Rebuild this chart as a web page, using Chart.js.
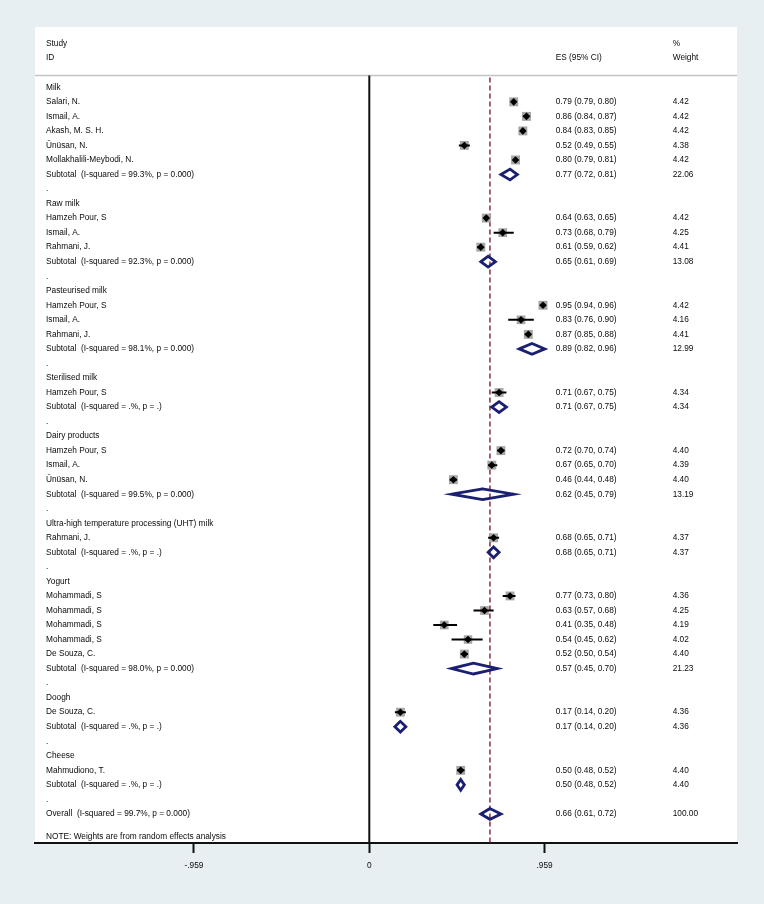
<!DOCTYPE html>
<html>
<head>
<meta charset="utf-8">
<script src="https://cdn.jsdelivr.net/npm/chart.js@4.4.1/dist/chart.umd.min.js"></script>
<style>
  html, body { margin: 0; padding: 0; background: #e8eff2; }
  canvas { display: block; }
</style>
</head>
<body>
<canvas id="forest" width="764" height="904"></canvas>
<script>
// Forest plot: prevalence by dairy product type (random effects)
// One entry per row, top to bottom. null = row without an estimate.

const rowLabels = [
  'Milk', 'Salari, N.', 'Ismail, A.', 'Akash, M. S. H.', 'Ünüsan, N.', 'Mollakhalili-Meybodi, N.',
  'Subtotal  (I-squared = 99.3%, p = 0.000)', '.',
  'Raw milk', 'Hamzeh Pour, S', 'Ismail, A.', 'Rahmani, J.',
  'Subtotal  (I-squared = 92.3%, p = 0.000)', '.',
  'Pasteurised milk', 'Hamzeh Pour, S', 'Ismail, A.', 'Rahmani, J.',
  'Subtotal  (I-squared = 98.1%, p = 0.000)', '.',
  'Sterilised milk', 'Hamzeh Pour, S',
  'Subtotal  (I-squared = .%, p = .)', '.',
  'Dairy products', 'Hamzeh Pour, S', 'Ismail, A.', 'Ünüsan, N.',
  'Subtotal  (I-squared = 99.5%, p = 0.000)', '.',
  'Ultra-high temperature processing (UHT) milk', 'Rahmani, J.',
  'Subtotal  (I-squared = .%, p = .)', '.',
  'Yogurt', 'Mohammadi, S', 'Mohammadi, S', 'Mohammadi, S', 'Mohammadi, S', 'De Souza, C.',
  'Subtotal  (I-squared = 98.0%, p = 0.000)', '.',
  'Doogh', 'De Souza, C.',
  'Subtotal  (I-squared = .%, p = .)', '.',
  'Cheese', 'Mahmudiono, T.',
  'Subtotal  (I-squared = .%, p = .)', '.',
  'Overall  (I-squared = 99.7%, p = 0.000)'
]

const esVals = [
  null, 0.79, 0.86, 0.84, 0.52, 0.80, 0.77, null,
  null, 0.64, 0.73, 0.61, 0.65, null,
  null, 0.95, 0.83, 0.87, 0.89, null,
  null, 0.71, 0.71, null,
  null, 0.72, 0.67, 0.46, 0.62, null,
  null, 0.68, 0.68, null,
  null, 0.77, 0.63, 0.41, 0.54, 0.52, 0.57, null,
  null, 0.17, 0.17, null,
  null, 0.50, 0.50, null,
  0.66
]

const ciLow = [
  null, 0.79, 0.84, 0.83, 0.49, 0.79, 0.72, null,
  null, 0.63, 0.68, 0.59, 0.61, null,
  null, 0.94, 0.76, 0.85, 0.82, null,
  null, 0.67, 0.67, null,
  null, 0.70, 0.65, 0.44, 0.45, null,
  null, 0.65, 0.65, null,
  null, 0.73, 0.57, 0.35, 0.45, 0.50, 0.45, null,
  null, 0.14, 0.14, null,
  null, 0.48, 0.48, null,
  0.61
]

const ciHigh = [
  null, 0.80, 0.87, 0.85, 0.55, 0.81, 0.81, null,
  null, 0.65, 0.79, 0.62, 0.69, null,
  null, 0.96, 0.90, 0.88, 0.96, null,
  null, 0.75, 0.75, null,
  null, 0.74, 0.70, 0.48, 0.79, null,
  null, 0.71, 0.71, null,
  null, 0.80, 0.68, 0.48, 0.62, 0.54, 0.70, null,
  null, 0.20, 0.20, null,
  null, 0.52, 0.52, null,
  0.72
]

const weights = [
  null, 4.42, 4.42, 4.42, 4.38, 4.42, 22.06, null,
  null, 4.42, 4.25, 4.41, 13.08, null,
  null, 4.42, 4.16, 4.41, 12.99, null,
  null, 4.34, 4.34, null,
  null, 4.40, 4.39, 4.40, 13.19, null,
  null, 4.37, 4.37, null,
  null, 4.36, 4.25, 4.19, 4.02, 4.40, 21.23, null,
  null, 4.36, 4.36, null,
  null, 4.40, 4.40, null,
  100.00
]

const xTickValues = [-0.959, 0, 0.959]
const xTickLabels = ['-.959', '0', '.959']
const noteText = 'NOTE: Weights are from random effects analysis'

// ---------- estilo / layout ----------
const FONT = '8.3px "Liberation Sans", Arial, sans-serif'
const TXT = '#0a0a0a'
const NAVY = '#1b1f72'
const MAROON = '#8c2a3a'
const BOX_GRAY = '#a6a6a6'
const X_MIN = -1.8288, X_MAX = 2.0115     // panel edges in ES units
const Y_MIN = -4.15, Y_MAX = 52.0         // rows (header above row 0)
const SEP_ROW = -0.81
const DIAMOND_HALF = 0.37
const BOX_R = 6.3
const COL_LABEL = 11, COL_ES = 520.7, COL_W = 637.7   // offsets from panel left

const isPooled = i => /^(Subtotal|Overall)/.test(rowLabels[i])
const gap = { x: null, y: null }

// ---------- datasets ----------
const studyPts = [], boxSizes = [], ciSegs = [], diamondPath = []
rowLabels.forEach((lab, i) => {
  if (esVals[i] === null) return
  if (isPooled(i)) {
    diamondPath.push(
      { x: ciLow[i], y: i }, { x: esVals[i], y: i - DIAMOND_HALF },
      { x: ciHigh[i], y: i }, { x: esVals[i], y: i + DIAMOND_HALF },
      { x: ciLow[i], y: i }, { x: esVals[i], y: i - DIAMOND_HALF }, gap)
  } else {
    studyPts.push({ x: esVals[i], y: i })
    boxSizes.push(BOX_R * Math.sqrt(weights[i] / 4.42))
    ciSegs.push({ x: ciLow[i], y: i }, { x: ciHigh[i], y: i }, gap)
  }
})

const overallIdx = rowLabels.length - 1

const forestDecor = {
  id: 'forestDecor',
  beforeDraw(chart) {
    const { ctx, chartArea: a } = chart
    ctx.save()
    ctx.fillStyle = '#fff'
    ctx.fillRect(a.left, a.top, a.right - a.left, a.bottom - a.top)
    ctx.restore()
  },
  beforeDatasetsDraw(chart) {
    const { ctx, chartArea: a, scales: { x, y } } = chart
    const sepY = y.getPixelForValue(SEP_ROW)
    ctx.save()
    // separador bajo el encabezado
    ctx.strokeStyle = '#c4c4c4'
    ctx.lineWidth = 1.5
    ctx.beginPath()
    ctx.moveTo(a.left, sepY)
    ctx.lineTo(a.right, sepY)
    ctx.stroke()
    // linea del cero
    const x0 = x.getPixelForValue(0)
    ctx.strokeStyle = '#111'
    ctx.lineWidth = 2
    ctx.beginPath()
    ctx.moveTo(x0, sepY)
    ctx.lineTo(x0, a.bottom)
    ctx.stroke()
    // efecto global, discontinua
    const xo = x.getPixelForValue(esVals[overallIdx])
    ctx.strokeStyle = MAROON
    ctx.lineWidth = 1.5
    ctx.setLineDash([5, 3])
    ctx.beginPath()
    ctx.moveTo(xo, sepY + 2)
    ctx.lineTo(xo, a.bottom)
    ctx.stroke()
    ctx.restore()
  },
  afterDatasetsDraw(chart) {
    const { ctx, chartArea: a, scales: { y } } = chart
    ctx.save()
    ctx.font = FONT
    ctx.fillStyle = TXT
    ctx.textBaseline = 'middle'
    ctx.textAlign = 'left'
    const r1 = y.getPixelForValue(-3.03), r2 = y.getPixelForValue(-2.02)
    ctx.fillText('Study', a.left + COL_LABEL, r1)
    ctx.fillText('ID', a.left + COL_LABEL, r2)
    ctx.fillText('ES (95% CI)', a.left + COL_ES, r2)
    ctx.fillText('%', a.left + COL_W, r1)
    ctx.fillText('Weight', a.left + COL_W, r2)
    rowLabels.forEach((lab, i) => {
      const py = y.getPixelForValue(i)
      ctx.fillText(lab, a.left + COL_LABEL, py)
      if (esVals[i] === null) return
      ctx.fillText(`${esVals[i].toFixed(2)} (${ciLow[i].toFixed(2)}, ${ciHigh[i].toFixed(2)})`, a.left + COL_ES, py)
      ctx.fillText(weights[i].toFixed(2), a.left + COL_W, py)
    })
    ctx.fillText(noteText, a.left + COL_LABEL, y.getPixelForValue(51.55))
    ctx.restore()
  }
}

new Chart(document.getElementById('forest'), {
  type: 'scatter',
  data: {
    datasets: [
      { // punto de la estimacion (encima de todo)
        data: studyPts, pointStyle: 'rectRot', pointRadius: 3.8,
        pointBackgroundColor: '#000', pointBorderWidth: 0
      },
      { // intervalos de confianza
        data: ciSegs, showLine: true, spanGaps: false, pointRadius: 0,
        borderColor: '#000', borderWidth: 2
      },
      { // cajas por peso
        data: studyPts, pointStyle: 'rect',
        pointRadius: c => boxSizes[c.dataIndex],
        pointBackgroundColor: BOX_GRAY, pointBorderColor: BOX_GRAY, pointBorderWidth: 0
      },
      { // rombos de subtotales y global
        data: diamondPath, showLine: true, spanGaps: false, pointRadius: 0,
        borderColor: NAVY, borderWidth: 2.8, borderJoinStyle: 'miter'
      }
    ]
  },
  options: {
    responsive: false,
    animation: false,
    events: [],
    layout: { padding: { left: 35, right: 27, top: 27, bottom: 0 } },
    plugins: { legend: { display: false }, tooltip: { enabled: false } },
    scales: {
      x: {
        type: 'linear', min: X_MIN, max: X_MAX,
        afterBuildTicks: s => { s.ticks = xTickValues.map(v => ({ value: v })) },
        afterFit: s => { s.height = 61 },
        ticks: {
          callback: (v, i) => xTickLabels[i],
          autoSkip: false, maxRotation: 0, padding: 8,
          font: { family: '"Liberation Sans", Arial, sans-serif', size: 8.3 },
          color: TXT
        },
        grid: { drawOnChartArea: false, drawTicks: true, tickLength: 10, tickWidth: 2, tickColor: '#111' },
        border: { color: '#111', width: 2 }
      },
      y: { type: 'linear', reverse: true, min: Y_MIN, max: Y_MAX, display: false }
    }
  },
  plugins: [forestDecor]
})
</script>
</body>
</html>
